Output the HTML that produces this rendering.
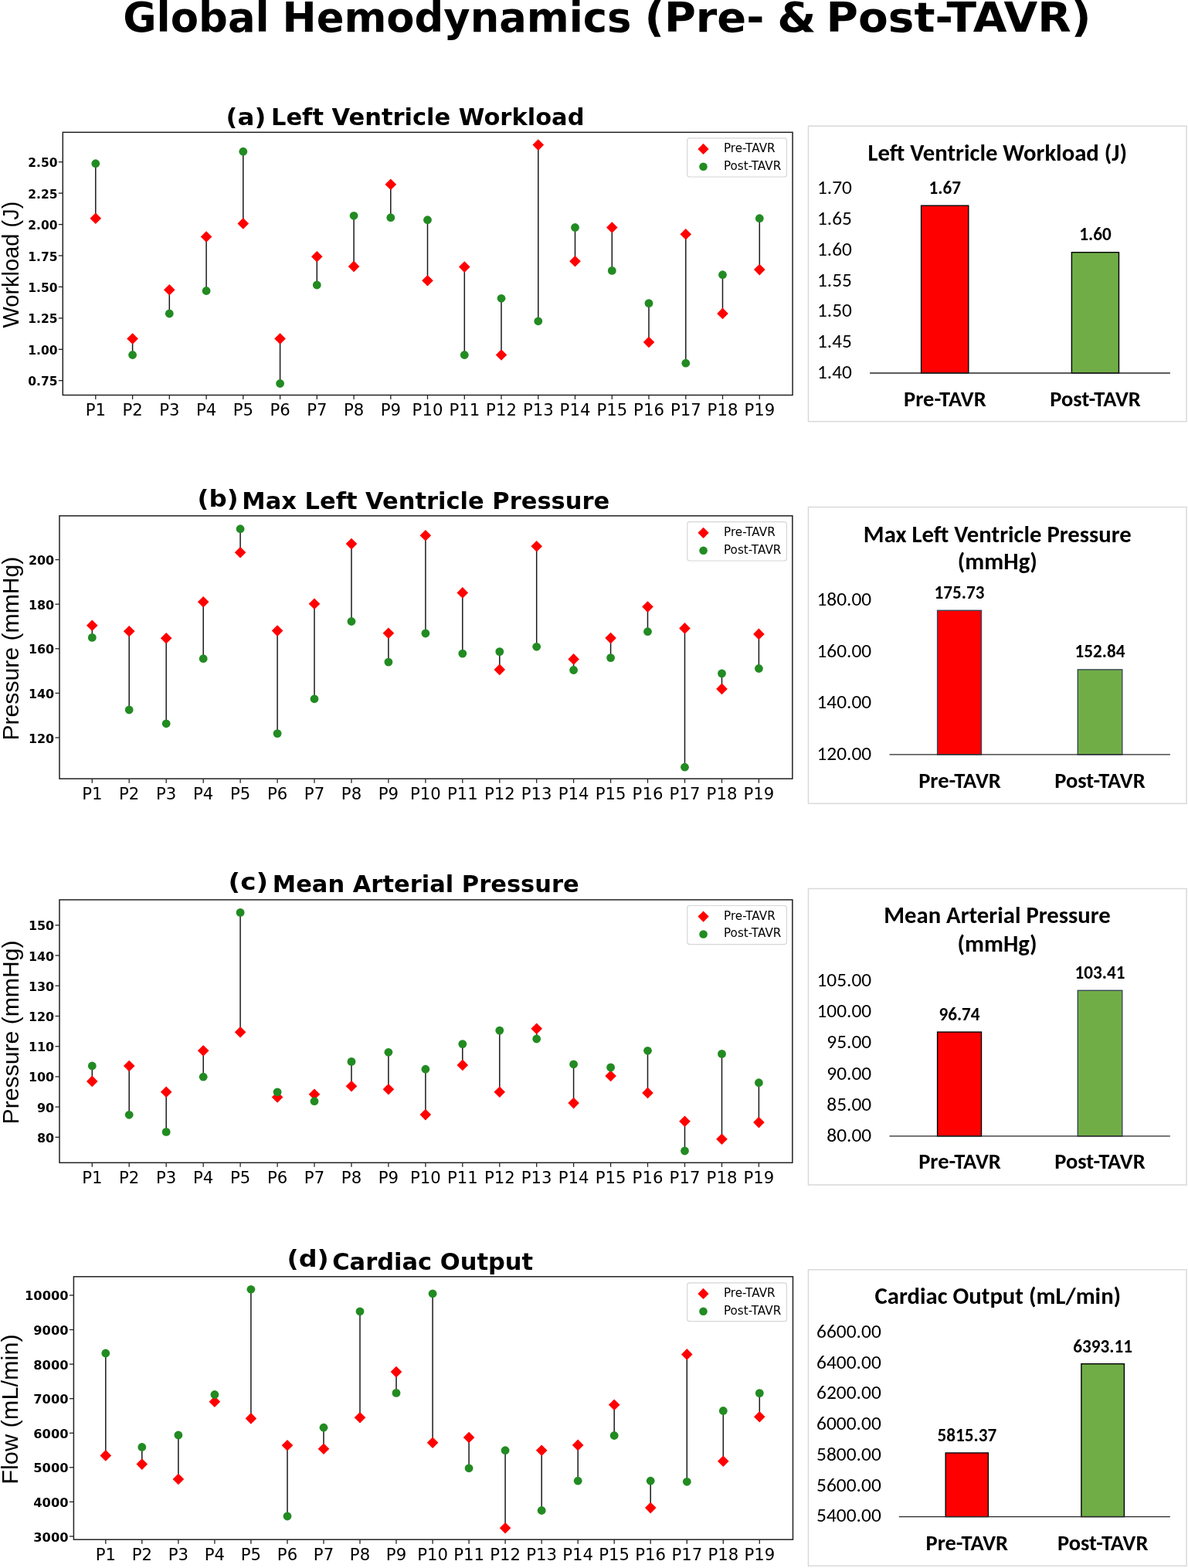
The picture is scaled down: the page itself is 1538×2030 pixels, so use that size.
<!DOCTYPE html>
<html><head><meta charset="utf-8"><title>Global Hemodynamics (Pre- &amp; Post-TAVR)</title>
<style>html,body{margin:0;padding:0;background:#fff;}svg{display:block;}</style></head>
<body><svg width="1538" height="2030" viewBox="0 0 1538 2030">
<rect x="0" y="0" width="1538" height="2030" fill="#ffffff"/>
<text y="41.4" font-family="'DejaVu Sans', 'Liberation Sans', sans-serif" font-weight="bold" font-size="53"><tspan x="159.2" textLength="189.5" lengthAdjust="spacingAndGlyphs">Global</tspan> <tspan x="365.5" textLength="452.0" lengthAdjust="spacingAndGlyphs">Hemodynamics</tspan> <tspan x="834.4" textLength="155.0" lengthAdjust="spacingAndGlyphs">(Pre-</tspan> <tspan x="1006.2" textLength="50.3" lengthAdjust="spacingAndGlyphs">&amp;</tspan> <tspan x="1069.5" textLength="343.2" lengthAdjust="spacingAndGlyphs">Post-TAVR)</tspan></text>
<line x1="123.8" y1="282.8" x2="123.8" y2="211.7" stroke="#1a1a1a" stroke-width="1.5"/>
<line x1="171.6" y1="438.5" x2="171.6" y2="459.5" stroke="#1a1a1a" stroke-width="1.5"/>
<line x1="219.3" y1="375.3" x2="219.3" y2="406.0" stroke="#1a1a1a" stroke-width="1.5"/>
<line x1="267.1" y1="306.5" x2="267.1" y2="376.5" stroke="#1a1a1a" stroke-width="1.5"/>
<line x1="314.8" y1="289.4" x2="314.8" y2="196.2" stroke="#1a1a1a" stroke-width="1.5"/>
<line x1="362.6" y1="438.5" x2="362.6" y2="496.5" stroke="#1a1a1a" stroke-width="1.5"/>
<line x1="410.3" y1="332.2" x2="410.3" y2="369.0" stroke="#1a1a1a" stroke-width="1.5"/>
<line x1="458.1" y1="344.9" x2="458.1" y2="279.3" stroke="#1a1a1a" stroke-width="1.5"/>
<line x1="505.8" y1="238.8" x2="505.8" y2="281.7" stroke="#1a1a1a" stroke-width="1.5"/>
<line x1="553.5" y1="363.3" x2="553.5" y2="284.7" stroke="#1a1a1a" stroke-width="1.5"/>
<line x1="601.3" y1="345.6" x2="601.3" y2="459.5" stroke="#1a1a1a" stroke-width="1.5"/>
<line x1="649.0" y1="459.5" x2="649.0" y2="386.3" stroke="#1a1a1a" stroke-width="1.5"/>
<line x1="696.8" y1="187.6" x2="696.8" y2="415.8" stroke="#1a1a1a" stroke-width="1.5"/>
<line x1="744.5" y1="338.3" x2="744.5" y2="294.5" stroke="#1a1a1a" stroke-width="1.5"/>
<line x1="792.3" y1="294.5" x2="792.3" y2="350.4" stroke="#1a1a1a" stroke-width="1.5"/>
<line x1="840.0" y1="443.0" x2="840.0" y2="392.6" stroke="#1a1a1a" stroke-width="1.5"/>
<line x1="887.8" y1="303.3" x2="887.8" y2="470.2" stroke="#1a1a1a" stroke-width="1.5"/>
<line x1="935.5" y1="405.9" x2="935.5" y2="355.7" stroke="#1a1a1a" stroke-width="1.5"/>
<line x1="983.3" y1="349.1" x2="983.3" y2="282.7" stroke="#1a1a1a" stroke-width="1.5"/>
<path d="M123.8 275.5L131.1 282.8L123.8 290.1L116.5 282.8Z" fill="#ff0000"/>
<circle cx="123.8" cy="211.7" r="5.4" fill="#228b22"/>
<path d="M171.6 431.2L178.9 438.5L171.6 445.8L164.2 438.5Z" fill="#ff0000"/>
<circle cx="171.6" cy="459.5" r="5.4" fill="#228b22"/>
<path d="M219.3 368.0L226.6 375.3L219.3 382.6L212.0 375.3Z" fill="#ff0000"/>
<circle cx="219.3" cy="406.0" r="5.4" fill="#228b22"/>
<path d="M267.1 299.2L274.4 306.5L267.1 313.8L259.8 306.5Z" fill="#ff0000"/>
<circle cx="267.1" cy="376.5" r="5.4" fill="#228b22"/>
<path d="M314.8 282.1L322.1 289.4L314.8 296.7L307.5 289.4Z" fill="#ff0000"/>
<circle cx="314.8" cy="196.2" r="5.4" fill="#228b22"/>
<path d="M362.6 431.2L369.9 438.5L362.6 445.8L355.2 438.5Z" fill="#ff0000"/>
<circle cx="362.6" cy="496.5" r="5.4" fill="#228b22"/>
<path d="M410.3 324.9L417.6 332.2L410.3 339.5L403.0 332.2Z" fill="#ff0000"/>
<circle cx="410.3" cy="369.0" r="5.4" fill="#228b22"/>
<path d="M458.1 337.6L465.4 344.9L458.1 352.2L450.8 344.9Z" fill="#ff0000"/>
<circle cx="458.1" cy="279.3" r="5.4" fill="#228b22"/>
<path d="M505.8 231.5L513.1 238.8L505.8 246.1L498.5 238.8Z" fill="#ff0000"/>
<circle cx="505.8" cy="281.7" r="5.4" fill="#228b22"/>
<path d="M553.5 356.0L560.8 363.3L553.5 370.6L546.2 363.3Z" fill="#ff0000"/>
<circle cx="553.5" cy="284.7" r="5.4" fill="#228b22"/>
<path d="M601.3 338.3L608.6 345.6L601.3 352.9L594.0 345.6Z" fill="#ff0000"/>
<circle cx="601.3" cy="459.5" r="5.4" fill="#228b22"/>
<path d="M649.0 452.2L656.3 459.5L649.0 466.8L641.8 459.5Z" fill="#ff0000"/>
<circle cx="649.0" cy="386.3" r="5.4" fill="#228b22"/>
<path d="M696.8 180.3L704.1 187.6L696.8 194.9L689.5 187.6Z" fill="#ff0000"/>
<circle cx="696.8" cy="415.8" r="5.4" fill="#228b22"/>
<path d="M744.5 331.0L751.8 338.3L744.5 345.6L737.2 338.3Z" fill="#ff0000"/>
<circle cx="744.5" cy="294.5" r="5.4" fill="#228b22"/>
<path d="M792.3 287.2L799.6 294.5L792.3 301.8L785.0 294.5Z" fill="#ff0000"/>
<circle cx="792.3" cy="350.4" r="5.4" fill="#228b22"/>
<path d="M840.0 435.7L847.3 443.0L840.0 450.3L832.8 443.0Z" fill="#ff0000"/>
<circle cx="840.0" cy="392.6" r="5.4" fill="#228b22"/>
<path d="M887.8 296.0L895.1 303.3L887.8 310.6L880.5 303.3Z" fill="#ff0000"/>
<circle cx="887.8" cy="470.2" r="5.4" fill="#228b22"/>
<path d="M935.5 398.6L942.8 405.9L935.5 413.2L928.2 405.9Z" fill="#ff0000"/>
<circle cx="935.5" cy="355.7" r="5.4" fill="#228b22"/>
<path d="M983.3 341.8L990.6 349.1L983.3 356.4L976.0 349.1Z" fill="#ff0000"/>
<circle cx="983.3" cy="282.7" r="5.4" fill="#228b22"/>
<rect x="81.3" y="171.3" width="944.8" height="340.2" fill="none" stroke="#222" stroke-width="1.5"/>
<line x1="75.8" y1="209.7" x2="81.3" y2="209.7" stroke="#222" stroke-width="1.3"/>
<text x="74.5" y="216.2" text-anchor="end" font-family="'DejaVu Sans', 'Liberation Sans', sans-serif" font-weight="bold" font-size="15.5">2.50</text>
<line x1="75.8" y1="250.1" x2="81.3" y2="250.1" stroke="#222" stroke-width="1.3"/>
<text x="74.5" y="256.6" text-anchor="end" font-family="'DejaVu Sans', 'Liberation Sans', sans-serif" font-weight="bold" font-size="15.5">2.25</text>
<line x1="75.8" y1="290.6" x2="81.3" y2="290.6" stroke="#222" stroke-width="1.3"/>
<text x="74.5" y="297.1" text-anchor="end" font-family="'DejaVu Sans', 'Liberation Sans', sans-serif" font-weight="bold" font-size="15.5">2.00</text>
<line x1="75.8" y1="331.0" x2="81.3" y2="331.0" stroke="#222" stroke-width="1.3"/>
<text x="74.5" y="337.5" text-anchor="end" font-family="'DejaVu Sans', 'Liberation Sans', sans-serif" font-weight="bold" font-size="15.5">1.75</text>
<line x1="75.8" y1="371.4" x2="81.3" y2="371.4" stroke="#222" stroke-width="1.3"/>
<text x="74.5" y="377.9" text-anchor="end" font-family="'DejaVu Sans', 'Liberation Sans', sans-serif" font-weight="bold" font-size="15.5">1.50</text>
<line x1="75.8" y1="411.9" x2="81.3" y2="411.9" stroke="#222" stroke-width="1.3"/>
<text x="74.5" y="418.4" text-anchor="end" font-family="'DejaVu Sans', 'Liberation Sans', sans-serif" font-weight="bold" font-size="15.5">1.25</text>
<line x1="75.8" y1="452.3" x2="81.3" y2="452.3" stroke="#222" stroke-width="1.3"/>
<text x="74.5" y="458.8" text-anchor="end" font-family="'DejaVu Sans', 'Liberation Sans', sans-serif" font-weight="bold" font-size="15.5">1.00</text>
<line x1="75.8" y1="492.7" x2="81.3" y2="492.7" stroke="#222" stroke-width="1.3"/>
<text x="74.5" y="499.2" text-anchor="end" font-family="'DejaVu Sans', 'Liberation Sans', sans-serif" font-weight="bold" font-size="15.5">0.75</text>
<line x1="123.8" y1="511.5" x2="123.8" y2="517.0" stroke="#222" stroke-width="1.3"/>
<text x="123.8" y="538.1" text-anchor="middle" font-family="'DejaVu Sans', 'Liberation Sans', sans-serif" font-size="20.6" textLength="26.3" lengthAdjust="spacingAndGlyphs">P1</text>
<line x1="171.6" y1="511.5" x2="171.6" y2="517.0" stroke="#222" stroke-width="1.3"/>
<text x="171.6" y="538.1" text-anchor="middle" font-family="'DejaVu Sans', 'Liberation Sans', sans-serif" font-size="20.6" textLength="26.3" lengthAdjust="spacingAndGlyphs">P2</text>
<line x1="219.3" y1="511.5" x2="219.3" y2="517.0" stroke="#222" stroke-width="1.3"/>
<text x="219.3" y="538.1" text-anchor="middle" font-family="'DejaVu Sans', 'Liberation Sans', sans-serif" font-size="20.6" textLength="26.3" lengthAdjust="spacingAndGlyphs">P3</text>
<line x1="267.1" y1="511.5" x2="267.1" y2="517.0" stroke="#222" stroke-width="1.3"/>
<text x="267.1" y="538.1" text-anchor="middle" font-family="'DejaVu Sans', 'Liberation Sans', sans-serif" font-size="20.6" textLength="26.3" lengthAdjust="spacingAndGlyphs">P4</text>
<line x1="314.8" y1="511.5" x2="314.8" y2="517.0" stroke="#222" stroke-width="1.3"/>
<text x="314.8" y="538.1" text-anchor="middle" font-family="'DejaVu Sans', 'Liberation Sans', sans-serif" font-size="20.6" textLength="26.3" lengthAdjust="spacingAndGlyphs">P5</text>
<line x1="362.6" y1="511.5" x2="362.6" y2="517.0" stroke="#222" stroke-width="1.3"/>
<text x="362.6" y="538.1" text-anchor="middle" font-family="'DejaVu Sans', 'Liberation Sans', sans-serif" font-size="20.6" textLength="26.3" lengthAdjust="spacingAndGlyphs">P6</text>
<line x1="410.3" y1="511.5" x2="410.3" y2="517.0" stroke="#222" stroke-width="1.3"/>
<text x="410.3" y="538.1" text-anchor="middle" font-family="'DejaVu Sans', 'Liberation Sans', sans-serif" font-size="20.6" textLength="26.3" lengthAdjust="spacingAndGlyphs">P7</text>
<line x1="458.1" y1="511.5" x2="458.1" y2="517.0" stroke="#222" stroke-width="1.3"/>
<text x="458.1" y="538.1" text-anchor="middle" font-family="'DejaVu Sans', 'Liberation Sans', sans-serif" font-size="20.6" textLength="26.3" lengthAdjust="spacingAndGlyphs">P8</text>
<line x1="505.8" y1="511.5" x2="505.8" y2="517.0" stroke="#222" stroke-width="1.3"/>
<text x="505.8" y="538.1" text-anchor="middle" font-family="'DejaVu Sans', 'Liberation Sans', sans-serif" font-size="20.6" textLength="26.3" lengthAdjust="spacingAndGlyphs">P9</text>
<line x1="553.5" y1="511.5" x2="553.5" y2="517.0" stroke="#222" stroke-width="1.3"/>
<text x="553.5" y="538.1" text-anchor="middle" font-family="'DejaVu Sans', 'Liberation Sans', sans-serif" font-size="20.6" textLength="39.8" lengthAdjust="spacingAndGlyphs">P10</text>
<line x1="601.3" y1="511.5" x2="601.3" y2="517.0" stroke="#222" stroke-width="1.3"/>
<text x="601.3" y="538.1" text-anchor="middle" font-family="'DejaVu Sans', 'Liberation Sans', sans-serif" font-size="20.6" textLength="39.8" lengthAdjust="spacingAndGlyphs">P11</text>
<line x1="649.0" y1="511.5" x2="649.0" y2="517.0" stroke="#222" stroke-width="1.3"/>
<text x="649.0" y="538.1" text-anchor="middle" font-family="'DejaVu Sans', 'Liberation Sans', sans-serif" font-size="20.6" textLength="39.8" lengthAdjust="spacingAndGlyphs">P12</text>
<line x1="696.8" y1="511.5" x2="696.8" y2="517.0" stroke="#222" stroke-width="1.3"/>
<text x="696.8" y="538.1" text-anchor="middle" font-family="'DejaVu Sans', 'Liberation Sans', sans-serif" font-size="20.6" textLength="39.8" lengthAdjust="spacingAndGlyphs">P13</text>
<line x1="744.5" y1="511.5" x2="744.5" y2="517.0" stroke="#222" stroke-width="1.3"/>
<text x="744.5" y="538.1" text-anchor="middle" font-family="'DejaVu Sans', 'Liberation Sans', sans-serif" font-size="20.6" textLength="39.8" lengthAdjust="spacingAndGlyphs">P14</text>
<line x1="792.3" y1="511.5" x2="792.3" y2="517.0" stroke="#222" stroke-width="1.3"/>
<text x="792.3" y="538.1" text-anchor="middle" font-family="'DejaVu Sans', 'Liberation Sans', sans-serif" font-size="20.6" textLength="39.8" lengthAdjust="spacingAndGlyphs">P15</text>
<line x1="840.0" y1="511.5" x2="840.0" y2="517.0" stroke="#222" stroke-width="1.3"/>
<text x="840.0" y="538.1" text-anchor="middle" font-family="'DejaVu Sans', 'Liberation Sans', sans-serif" font-size="20.6" textLength="39.8" lengthAdjust="spacingAndGlyphs">P16</text>
<line x1="887.8" y1="511.5" x2="887.8" y2="517.0" stroke="#222" stroke-width="1.3"/>
<text x="887.8" y="538.1" text-anchor="middle" font-family="'DejaVu Sans', 'Liberation Sans', sans-serif" font-size="20.6" textLength="39.8" lengthAdjust="spacingAndGlyphs">P17</text>
<line x1="935.5" y1="511.5" x2="935.5" y2="517.0" stroke="#222" stroke-width="1.3"/>
<text x="935.5" y="538.1" text-anchor="middle" font-family="'DejaVu Sans', 'Liberation Sans', sans-serif" font-size="20.6" textLength="39.8" lengthAdjust="spacingAndGlyphs">P18</text>
<line x1="983.3" y1="511.5" x2="983.3" y2="517.0" stroke="#222" stroke-width="1.3"/>
<text x="983.3" y="538.1" text-anchor="middle" font-family="'DejaVu Sans', 'Liberation Sans', sans-serif" font-size="20.6" textLength="39.8" lengthAdjust="spacingAndGlyphs">P19</text>
<text transform="translate(24,342.6) rotate(-90)" text-anchor="middle" font-family="'Liberation Sans', Arial, sans-serif" font-size="29">Workload (J)</text>
<text x="292.6" y="162.0" font-family="'DejaVu Sans', 'Liberation Sans', sans-serif" font-weight="bold" font-size="30.5" textLength="51.7" lengthAdjust="spacingAndGlyphs">(a)</text>
<text x="351.0" y="162.0" font-family="'DejaVu Sans', 'Liberation Sans', sans-serif" font-weight="bold" font-size="30.5">Left Ventricle Workload</text>
<rect x="889.7" y="178.8" width="128.7" height="50.2" rx="3" ry="3" fill="#fff" fill-opacity="0.8" stroke="#d6d6d6" stroke-width="1.2"/>
<path d="M910.5 185.8L917.6 192.9L910.5 200.0L903.4 192.9Z" fill="#ff0000"/>
<circle cx="910.5" cy="215.8" r="5.3" fill="#228b22"/>
<text x="936.9" y="197.1" font-family="'DejaVu Sans', 'Liberation Sans', sans-serif" font-size="15.2">Pre-TAVR</text>
<text x="936.9" y="219.6" font-family="'DejaVu Sans', 'Liberation Sans', sans-serif" font-size="15.2">Post-TAVR</text>
<line x1="119.3" y1="809.8" x2="119.3" y2="825.4" stroke="#1a1a1a" stroke-width="1.5"/>
<line x1="167.2" y1="817.2" x2="167.2" y2="919.0" stroke="#1a1a1a" stroke-width="1.5"/>
<line x1="215.2" y1="826.2" x2="215.2" y2="936.8" stroke="#1a1a1a" stroke-width="1.5"/>
<line x1="263.2" y1="779.2" x2="263.2" y2="852.7" stroke="#1a1a1a" stroke-width="1.5"/>
<line x1="311.1" y1="715.3" x2="311.1" y2="684.7" stroke="#1a1a1a" stroke-width="1.5"/>
<line x1="359.1" y1="816.6" x2="359.1" y2="949.6" stroke="#1a1a1a" stroke-width="1.5"/>
<line x1="407.0" y1="781.7" x2="407.0" y2="904.8" stroke="#1a1a1a" stroke-width="1.5"/>
<line x1="455.0" y1="704.1" x2="455.0" y2="804.5" stroke="#1a1a1a" stroke-width="1.5"/>
<line x1="502.9" y1="819.7" x2="502.9" y2="857.1" stroke="#1a1a1a" stroke-width="1.5"/>
<line x1="550.9" y1="693.2" x2="550.9" y2="820.0" stroke="#1a1a1a" stroke-width="1.5"/>
<line x1="598.8" y1="767.4" x2="598.8" y2="846.1" stroke="#1a1a1a" stroke-width="1.5"/>
<line x1="646.8" y1="866.9" x2="646.8" y2="843.6" stroke="#1a1a1a" stroke-width="1.5"/>
<line x1="694.7" y1="707.3" x2="694.7" y2="837.3" stroke="#1a1a1a" stroke-width="1.5"/>
<line x1="742.6" y1="853.4" x2="742.6" y2="867.5" stroke="#1a1a1a" stroke-width="1.5"/>
<line x1="790.6" y1="826.1" x2="790.6" y2="851.6" stroke="#1a1a1a" stroke-width="1.5"/>
<line x1="838.5" y1="785.6" x2="838.5" y2="817.7" stroke="#1a1a1a" stroke-width="1.5"/>
<line x1="886.5" y1="813.4" x2="886.5" y2="993.2" stroke="#1a1a1a" stroke-width="1.5"/>
<line x1="934.5" y1="891.9" x2="934.5" y2="871.9" stroke="#1a1a1a" stroke-width="1.5"/>
<line x1="982.4" y1="820.9" x2="982.4" y2="865.5" stroke="#1a1a1a" stroke-width="1.5"/>
<path d="M119.3 802.5L126.6 809.8L119.3 817.1L112.0 809.8Z" fill="#ff0000"/>
<circle cx="119.3" cy="825.4" r="5.4" fill="#228b22"/>
<path d="M167.2 809.9L174.6 817.2L167.2 824.5L159.9 817.2Z" fill="#ff0000"/>
<circle cx="167.2" cy="919.0" r="5.4" fill="#228b22"/>
<path d="M215.2 818.9L222.5 826.2L215.2 833.5L207.9 826.2Z" fill="#ff0000"/>
<circle cx="215.2" cy="936.8" r="5.4" fill="#228b22"/>
<path d="M263.2 771.9L270.5 779.2L263.2 786.5L255.9 779.2Z" fill="#ff0000"/>
<circle cx="263.2" cy="852.7" r="5.4" fill="#228b22"/>
<path d="M311.1 708.0L318.4 715.3L311.1 722.6L303.8 715.3Z" fill="#ff0000"/>
<circle cx="311.1" cy="684.7" r="5.4" fill="#228b22"/>
<path d="M359.1 809.3L366.4 816.6L359.1 823.9L351.8 816.6Z" fill="#ff0000"/>
<circle cx="359.1" cy="949.6" r="5.4" fill="#228b22"/>
<path d="M407.0 774.4L414.3 781.7L407.0 789.0L399.7 781.7Z" fill="#ff0000"/>
<circle cx="407.0" cy="904.8" r="5.4" fill="#228b22"/>
<path d="M455.0 696.8L462.3 704.1L455.0 711.4L447.7 704.1Z" fill="#ff0000"/>
<circle cx="455.0" cy="804.5" r="5.4" fill="#228b22"/>
<path d="M502.9 812.4L510.2 819.7L502.9 827.0L495.6 819.7Z" fill="#ff0000"/>
<circle cx="502.9" cy="857.1" r="5.4" fill="#228b22"/>
<path d="M550.9 685.9L558.1 693.2L550.9 700.5L543.6 693.2Z" fill="#ff0000"/>
<circle cx="550.9" cy="820.0" r="5.4" fill="#228b22"/>
<path d="M598.8 760.1L606.1 767.4L598.8 774.7L591.5 767.4Z" fill="#ff0000"/>
<circle cx="598.8" cy="846.1" r="5.4" fill="#228b22"/>
<path d="M646.8 859.6L654.0 866.9L646.8 874.2L639.5 866.9Z" fill="#ff0000"/>
<circle cx="646.8" cy="843.6" r="5.4" fill="#228b22"/>
<path d="M694.7 700.0L702.0 707.3L694.7 714.6L687.4 707.3Z" fill="#ff0000"/>
<circle cx="694.7" cy="837.3" r="5.4" fill="#228b22"/>
<path d="M742.6 846.1L749.9 853.4L742.6 860.7L735.4 853.4Z" fill="#ff0000"/>
<circle cx="742.6" cy="867.5" r="5.4" fill="#228b22"/>
<path d="M790.6 818.8L797.9 826.1L790.6 833.4L783.3 826.1Z" fill="#ff0000"/>
<circle cx="790.6" cy="851.6" r="5.4" fill="#228b22"/>
<path d="M838.5 778.3L845.8 785.6L838.5 792.9L831.2 785.6Z" fill="#ff0000"/>
<circle cx="838.5" cy="817.7" r="5.4" fill="#228b22"/>
<path d="M886.5 806.1L893.8 813.4L886.5 820.7L879.2 813.4Z" fill="#ff0000"/>
<circle cx="886.5" cy="993.2" r="5.4" fill="#228b22"/>
<path d="M934.5 884.6L941.8 891.9L934.5 899.2L927.2 891.9Z" fill="#ff0000"/>
<circle cx="934.5" cy="871.9" r="5.4" fill="#228b22"/>
<path d="M982.4 813.6L989.7 820.9L982.4 828.2L975.1 820.9Z" fill="#ff0000"/>
<circle cx="982.4" cy="865.5" r="5.4" fill="#228b22"/>
<rect x="77.0" y="667.8" width="948.9" height="340.4" fill="none" stroke="#222" stroke-width="1.5"/>
<line x1="71.5" y1="724.6" x2="77.0" y2="724.6" stroke="#222" stroke-width="1.3"/>
<text x="70.2" y="731.1" text-anchor="end" font-family="'DejaVu Sans', 'Liberation Sans', sans-serif" font-weight="bold" font-size="15.5" textLength="33.3" lengthAdjust="spacingAndGlyphs">200</text>
<line x1="71.5" y1="782.2" x2="77.0" y2="782.2" stroke="#222" stroke-width="1.3"/>
<text x="70.2" y="788.7" text-anchor="end" font-family="'DejaVu Sans', 'Liberation Sans', sans-serif" font-weight="bold" font-size="15.5" textLength="33.3" lengthAdjust="spacingAndGlyphs">180</text>
<line x1="71.5" y1="839.8" x2="77.0" y2="839.8" stroke="#222" stroke-width="1.3"/>
<text x="70.2" y="846.3" text-anchor="end" font-family="'DejaVu Sans', 'Liberation Sans', sans-serif" font-weight="bold" font-size="15.5" textLength="33.3" lengthAdjust="spacingAndGlyphs">160</text>
<line x1="71.5" y1="897.4" x2="77.0" y2="897.4" stroke="#222" stroke-width="1.3"/>
<text x="70.2" y="903.9" text-anchor="end" font-family="'DejaVu Sans', 'Liberation Sans', sans-serif" font-weight="bold" font-size="15.5" textLength="33.3" lengthAdjust="spacingAndGlyphs">140</text>
<line x1="71.5" y1="955.0" x2="77.0" y2="955.0" stroke="#222" stroke-width="1.3"/>
<text x="70.2" y="961.5" text-anchor="end" font-family="'DejaVu Sans', 'Liberation Sans', sans-serif" font-weight="bold" font-size="15.5" textLength="33.3" lengthAdjust="spacingAndGlyphs">120</text>
<line x1="119.3" y1="1008.2" x2="119.3" y2="1013.7" stroke="#222" stroke-width="1.3"/>
<text x="119.3" y="1034.8" text-anchor="middle" font-family="'DejaVu Sans', 'Liberation Sans', sans-serif" font-size="20.6" textLength="26.3" lengthAdjust="spacingAndGlyphs">P1</text>
<line x1="167.2" y1="1008.2" x2="167.2" y2="1013.7" stroke="#222" stroke-width="1.3"/>
<text x="167.2" y="1034.8" text-anchor="middle" font-family="'DejaVu Sans', 'Liberation Sans', sans-serif" font-size="20.6" textLength="26.3" lengthAdjust="spacingAndGlyphs">P2</text>
<line x1="215.2" y1="1008.2" x2="215.2" y2="1013.7" stroke="#222" stroke-width="1.3"/>
<text x="215.2" y="1034.8" text-anchor="middle" font-family="'DejaVu Sans', 'Liberation Sans', sans-serif" font-size="20.6" textLength="26.3" lengthAdjust="spacingAndGlyphs">P3</text>
<line x1="263.2" y1="1008.2" x2="263.2" y2="1013.7" stroke="#222" stroke-width="1.3"/>
<text x="263.2" y="1034.8" text-anchor="middle" font-family="'DejaVu Sans', 'Liberation Sans', sans-serif" font-size="20.6" textLength="26.3" lengthAdjust="spacingAndGlyphs">P4</text>
<line x1="311.1" y1="1008.2" x2="311.1" y2="1013.7" stroke="#222" stroke-width="1.3"/>
<text x="311.1" y="1034.8" text-anchor="middle" font-family="'DejaVu Sans', 'Liberation Sans', sans-serif" font-size="20.6" textLength="26.3" lengthAdjust="spacingAndGlyphs">P5</text>
<line x1="359.1" y1="1008.2" x2="359.1" y2="1013.7" stroke="#222" stroke-width="1.3"/>
<text x="359.1" y="1034.8" text-anchor="middle" font-family="'DejaVu Sans', 'Liberation Sans', sans-serif" font-size="20.6" textLength="26.3" lengthAdjust="spacingAndGlyphs">P6</text>
<line x1="407.0" y1="1008.2" x2="407.0" y2="1013.7" stroke="#222" stroke-width="1.3"/>
<text x="407.0" y="1034.8" text-anchor="middle" font-family="'DejaVu Sans', 'Liberation Sans', sans-serif" font-size="20.6" textLength="26.3" lengthAdjust="spacingAndGlyphs">P7</text>
<line x1="455.0" y1="1008.2" x2="455.0" y2="1013.7" stroke="#222" stroke-width="1.3"/>
<text x="455.0" y="1034.8" text-anchor="middle" font-family="'DejaVu Sans', 'Liberation Sans', sans-serif" font-size="20.6" textLength="26.3" lengthAdjust="spacingAndGlyphs">P8</text>
<line x1="502.9" y1="1008.2" x2="502.9" y2="1013.7" stroke="#222" stroke-width="1.3"/>
<text x="502.9" y="1034.8" text-anchor="middle" font-family="'DejaVu Sans', 'Liberation Sans', sans-serif" font-size="20.6" textLength="26.3" lengthAdjust="spacingAndGlyphs">P9</text>
<line x1="550.9" y1="1008.2" x2="550.9" y2="1013.7" stroke="#222" stroke-width="1.3"/>
<text x="550.9" y="1034.8" text-anchor="middle" font-family="'DejaVu Sans', 'Liberation Sans', sans-serif" font-size="20.6" textLength="39.8" lengthAdjust="spacingAndGlyphs">P10</text>
<line x1="598.8" y1="1008.2" x2="598.8" y2="1013.7" stroke="#222" stroke-width="1.3"/>
<text x="598.8" y="1034.8" text-anchor="middle" font-family="'DejaVu Sans', 'Liberation Sans', sans-serif" font-size="20.6" textLength="39.8" lengthAdjust="spacingAndGlyphs">P11</text>
<line x1="646.8" y1="1008.2" x2="646.8" y2="1013.7" stroke="#222" stroke-width="1.3"/>
<text x="646.8" y="1034.8" text-anchor="middle" font-family="'DejaVu Sans', 'Liberation Sans', sans-serif" font-size="20.6" textLength="39.8" lengthAdjust="spacingAndGlyphs">P12</text>
<line x1="694.7" y1="1008.2" x2="694.7" y2="1013.7" stroke="#222" stroke-width="1.3"/>
<text x="694.7" y="1034.8" text-anchor="middle" font-family="'DejaVu Sans', 'Liberation Sans', sans-serif" font-size="20.6" textLength="39.8" lengthAdjust="spacingAndGlyphs">P13</text>
<line x1="742.6" y1="1008.2" x2="742.6" y2="1013.7" stroke="#222" stroke-width="1.3"/>
<text x="742.6" y="1034.8" text-anchor="middle" font-family="'DejaVu Sans', 'Liberation Sans', sans-serif" font-size="20.6" textLength="39.8" lengthAdjust="spacingAndGlyphs">P14</text>
<line x1="790.6" y1="1008.2" x2="790.6" y2="1013.7" stroke="#222" stroke-width="1.3"/>
<text x="790.6" y="1034.8" text-anchor="middle" font-family="'DejaVu Sans', 'Liberation Sans', sans-serif" font-size="20.6" textLength="39.8" lengthAdjust="spacingAndGlyphs">P15</text>
<line x1="838.5" y1="1008.2" x2="838.5" y2="1013.7" stroke="#222" stroke-width="1.3"/>
<text x="838.5" y="1034.8" text-anchor="middle" font-family="'DejaVu Sans', 'Liberation Sans', sans-serif" font-size="20.6" textLength="39.8" lengthAdjust="spacingAndGlyphs">P16</text>
<line x1="886.5" y1="1008.2" x2="886.5" y2="1013.7" stroke="#222" stroke-width="1.3"/>
<text x="886.5" y="1034.8" text-anchor="middle" font-family="'DejaVu Sans', 'Liberation Sans', sans-serif" font-size="20.6" textLength="39.8" lengthAdjust="spacingAndGlyphs">P17</text>
<line x1="934.5" y1="1008.2" x2="934.5" y2="1013.7" stroke="#222" stroke-width="1.3"/>
<text x="934.5" y="1034.8" text-anchor="middle" font-family="'DejaVu Sans', 'Liberation Sans', sans-serif" font-size="20.6" textLength="39.8" lengthAdjust="spacingAndGlyphs">P18</text>
<line x1="982.4" y1="1008.2" x2="982.4" y2="1013.7" stroke="#222" stroke-width="1.3"/>
<text x="982.4" y="1034.8" text-anchor="middle" font-family="'DejaVu Sans', 'Liberation Sans', sans-serif" font-size="20.6" textLength="39.8" lengthAdjust="spacingAndGlyphs">P19</text>
<text transform="translate(24,839.6) rotate(-90)" text-anchor="middle" font-family="'Liberation Sans', Arial, sans-serif" font-size="29" textLength="238.0" lengthAdjust="spacingAndGlyphs">Pressure (mmHg)</text>
<text x="255.6" y="656.3" font-family="'DejaVu Sans', 'Liberation Sans', sans-serif" font-weight="bold" font-size="30.5" textLength="53.1" lengthAdjust="spacingAndGlyphs">(b)</text>
<text x="313.3" y="658.8" font-family="'DejaVu Sans', 'Liberation Sans', sans-serif" font-weight="bold" font-size="30.5">Max Left Ventricle Pressure</text>
<rect x="889.8" y="675.7" width="128.6" height="50.3" rx="3" ry="3" fill="#fff" fill-opacity="0.8" stroke="#d6d6d6" stroke-width="1.2"/>
<path d="M910.6 682.7L917.7 689.8L910.6 696.9L903.5 689.8Z" fill="#ff0000"/>
<circle cx="910.6" cy="712.7" r="5.3" fill="#228b22"/>
<text x="937.0" y="694.0" font-family="'DejaVu Sans', 'Liberation Sans', sans-serif" font-size="15.2">Pre-TAVR</text>
<text x="937.0" y="716.5" font-family="'DejaVu Sans', 'Liberation Sans', sans-serif" font-size="15.2">Post-TAVR</text>
<line x1="119.3" y1="1399.9" x2="119.3" y2="1380.0" stroke="#1a1a1a" stroke-width="1.5"/>
<line x1="167.2" y1="1380.0" x2="167.2" y2="1443.3" stroke="#1a1a1a" stroke-width="1.5"/>
<line x1="215.2" y1="1413.8" x2="215.2" y2="1465.4" stroke="#1a1a1a" stroke-width="1.5"/>
<line x1="263.2" y1="1360.3" x2="263.2" y2="1394.2" stroke="#1a1a1a" stroke-width="1.5"/>
<line x1="311.1" y1="1336.3" x2="311.1" y2="1181.4" stroke="#1a1a1a" stroke-width="1.5"/>
<line x1="359.1" y1="1420.4" x2="359.1" y2="1413.8" stroke="#1a1a1a" stroke-width="1.5"/>
<line x1="407.0" y1="1416.8" x2="407.0" y2="1425.7" stroke="#1a1a1a" stroke-width="1.5"/>
<line x1="455.0" y1="1406.2" x2="455.0" y2="1374.4" stroke="#1a1a1a" stroke-width="1.5"/>
<line x1="502.9" y1="1410.3" x2="502.9" y2="1362.3" stroke="#1a1a1a" stroke-width="1.5"/>
<line x1="550.9" y1="1443.1" x2="550.9" y2="1384.2" stroke="#1a1a1a" stroke-width="1.5"/>
<line x1="598.8" y1="1378.9" x2="598.8" y2="1351.6" stroke="#1a1a1a" stroke-width="1.5"/>
<line x1="646.8" y1="1413.7" x2="646.8" y2="1334.1" stroke="#1a1a1a" stroke-width="1.5"/>
<line x1="694.7" y1="1331.8" x2="694.7" y2="1345.0" stroke="#1a1a1a" stroke-width="1.5"/>
<line x1="742.6" y1="1428.1" x2="742.6" y2="1377.8" stroke="#1a1a1a" stroke-width="1.5"/>
<line x1="790.6" y1="1393.0" x2="790.6" y2="1381.9" stroke="#1a1a1a" stroke-width="1.5"/>
<line x1="838.5" y1="1414.9" x2="838.5" y2="1360.3" stroke="#1a1a1a" stroke-width="1.5"/>
<line x1="886.5" y1="1451.7" x2="886.5" y2="1490.0" stroke="#1a1a1a" stroke-width="1.5"/>
<line x1="934.5" y1="1474.7" x2="934.5" y2="1364.4" stroke="#1a1a1a" stroke-width="1.5"/>
<line x1="982.4" y1="1453.1" x2="982.4" y2="1401.7" stroke="#1a1a1a" stroke-width="1.5"/>
<path d="M119.3 1392.6L126.6 1399.9L119.3 1407.2L112.0 1399.9Z" fill="#ff0000"/>
<circle cx="119.3" cy="1380.0" r="5.4" fill="#228b22"/>
<path d="M167.2 1372.7L174.6 1380.0L167.2 1387.3L159.9 1380.0Z" fill="#ff0000"/>
<circle cx="167.2" cy="1443.3" r="5.4" fill="#228b22"/>
<path d="M215.2 1406.5L222.5 1413.8L215.2 1421.1L207.9 1413.8Z" fill="#ff0000"/>
<circle cx="215.2" cy="1465.4" r="5.4" fill="#228b22"/>
<path d="M263.2 1353.0L270.5 1360.3L263.2 1367.6L255.9 1360.3Z" fill="#ff0000"/>
<circle cx="263.2" cy="1394.2" r="5.4" fill="#228b22"/>
<path d="M311.1 1329.0L318.4 1336.3L311.1 1343.6L303.8 1336.3Z" fill="#ff0000"/>
<circle cx="311.1" cy="1181.4" r="5.4" fill="#228b22"/>
<path d="M359.1 1413.1L366.4 1420.4L359.1 1427.7L351.8 1420.4Z" fill="#ff0000"/>
<circle cx="359.1" cy="1413.8" r="5.4" fill="#228b22"/>
<path d="M407.0 1409.5L414.3 1416.8L407.0 1424.1L399.7 1416.8Z" fill="#ff0000"/>
<circle cx="407.0" cy="1425.7" r="5.4" fill="#228b22"/>
<path d="M455.0 1398.9L462.3 1406.2L455.0 1413.5L447.7 1406.2Z" fill="#ff0000"/>
<circle cx="455.0" cy="1374.4" r="5.4" fill="#228b22"/>
<path d="M502.9 1403.0L510.2 1410.3L502.9 1417.6L495.6 1410.3Z" fill="#ff0000"/>
<circle cx="502.9" cy="1362.3" r="5.4" fill="#228b22"/>
<path d="M550.9 1435.8L558.1 1443.1L550.9 1450.4L543.6 1443.1Z" fill="#ff0000"/>
<circle cx="550.9" cy="1384.2" r="5.4" fill="#228b22"/>
<path d="M598.8 1371.6L606.1 1378.9L598.8 1386.2L591.5 1378.9Z" fill="#ff0000"/>
<circle cx="598.8" cy="1351.6" r="5.4" fill="#228b22"/>
<path d="M646.8 1406.4L654.0 1413.7L646.8 1421.0L639.5 1413.7Z" fill="#ff0000"/>
<circle cx="646.8" cy="1334.1" r="5.4" fill="#228b22"/>
<path d="M694.7 1324.5L702.0 1331.8L694.7 1339.1L687.4 1331.8Z" fill="#ff0000"/>
<circle cx="694.7" cy="1345.0" r="5.4" fill="#228b22"/>
<path d="M742.6 1420.8L749.9 1428.1L742.6 1435.4L735.4 1428.1Z" fill="#ff0000"/>
<circle cx="742.6" cy="1377.8" r="5.4" fill="#228b22"/>
<path d="M790.6 1385.7L797.9 1393.0L790.6 1400.3L783.3 1393.0Z" fill="#ff0000"/>
<circle cx="790.6" cy="1381.9" r="5.4" fill="#228b22"/>
<path d="M838.5 1407.6L845.8 1414.9L838.5 1422.2L831.2 1414.9Z" fill="#ff0000"/>
<circle cx="838.5" cy="1360.3" r="5.4" fill="#228b22"/>
<path d="M886.5 1444.4L893.8 1451.7L886.5 1459.0L879.2 1451.7Z" fill="#ff0000"/>
<circle cx="886.5" cy="1490.0" r="5.4" fill="#228b22"/>
<path d="M934.5 1467.4L941.8 1474.7L934.5 1482.0L927.2 1474.7Z" fill="#ff0000"/>
<circle cx="934.5" cy="1364.4" r="5.4" fill="#228b22"/>
<path d="M982.4 1445.8L989.7 1453.1L982.4 1460.4L975.1 1453.1Z" fill="#ff0000"/>
<circle cx="982.4" cy="1401.7" r="5.4" fill="#228b22"/>
<rect x="77.0" y="1164.9" width="948.9" height="340.4" fill="none" stroke="#222" stroke-width="1.5"/>
<line x1="71.5" y1="1197.8" x2="77.0" y2="1197.8" stroke="#222" stroke-width="1.3"/>
<text x="70.2" y="1204.3" text-anchor="end" font-family="'DejaVu Sans', 'Liberation Sans', sans-serif" font-weight="bold" font-size="15.5" textLength="33.3" lengthAdjust="spacingAndGlyphs">150</text>
<line x1="71.5" y1="1237.0" x2="77.0" y2="1237.0" stroke="#222" stroke-width="1.3"/>
<text x="70.2" y="1243.5" text-anchor="end" font-family="'DejaVu Sans', 'Liberation Sans', sans-serif" font-weight="bold" font-size="15.5" textLength="33.3" lengthAdjust="spacingAndGlyphs">140</text>
<line x1="71.5" y1="1276.2" x2="77.0" y2="1276.2" stroke="#222" stroke-width="1.3"/>
<text x="70.2" y="1282.7" text-anchor="end" font-family="'DejaVu Sans', 'Liberation Sans', sans-serif" font-weight="bold" font-size="15.5" textLength="33.3" lengthAdjust="spacingAndGlyphs">130</text>
<line x1="71.5" y1="1315.5" x2="77.0" y2="1315.5" stroke="#222" stroke-width="1.3"/>
<text x="70.2" y="1322.0" text-anchor="end" font-family="'DejaVu Sans', 'Liberation Sans', sans-serif" font-weight="bold" font-size="15.5" textLength="33.3" lengthAdjust="spacingAndGlyphs">120</text>
<line x1="71.5" y1="1354.7" x2="77.0" y2="1354.7" stroke="#222" stroke-width="1.3"/>
<text x="70.2" y="1361.2" text-anchor="end" font-family="'DejaVu Sans', 'Liberation Sans', sans-serif" font-weight="bold" font-size="15.5" textLength="33.3" lengthAdjust="spacingAndGlyphs">110</text>
<line x1="71.5" y1="1393.9" x2="77.0" y2="1393.9" stroke="#222" stroke-width="1.3"/>
<text x="70.2" y="1400.4" text-anchor="end" font-family="'DejaVu Sans', 'Liberation Sans', sans-serif" font-weight="bold" font-size="15.5" textLength="33.3" lengthAdjust="spacingAndGlyphs">100</text>
<line x1="71.5" y1="1433.1" x2="77.0" y2="1433.1" stroke="#222" stroke-width="1.3"/>
<text x="70.2" y="1439.6" text-anchor="end" font-family="'DejaVu Sans', 'Liberation Sans', sans-serif" font-weight="bold" font-size="15.5" textLength="22.2" lengthAdjust="spacingAndGlyphs">90</text>
<line x1="71.5" y1="1472.3" x2="77.0" y2="1472.3" stroke="#222" stroke-width="1.3"/>
<text x="70.2" y="1478.8" text-anchor="end" font-family="'DejaVu Sans', 'Liberation Sans', sans-serif" font-weight="bold" font-size="15.5" textLength="22.2" lengthAdjust="spacingAndGlyphs">80</text>
<line x1="119.3" y1="1505.3" x2="119.3" y2="1510.8" stroke="#222" stroke-width="1.3"/>
<text x="119.3" y="1531.9" text-anchor="middle" font-family="'DejaVu Sans', 'Liberation Sans', sans-serif" font-size="20.6" textLength="26.3" lengthAdjust="spacingAndGlyphs">P1</text>
<line x1="167.2" y1="1505.3" x2="167.2" y2="1510.8" stroke="#222" stroke-width="1.3"/>
<text x="167.2" y="1531.9" text-anchor="middle" font-family="'DejaVu Sans', 'Liberation Sans', sans-serif" font-size="20.6" textLength="26.3" lengthAdjust="spacingAndGlyphs">P2</text>
<line x1="215.2" y1="1505.3" x2="215.2" y2="1510.8" stroke="#222" stroke-width="1.3"/>
<text x="215.2" y="1531.9" text-anchor="middle" font-family="'DejaVu Sans', 'Liberation Sans', sans-serif" font-size="20.6" textLength="26.3" lengthAdjust="spacingAndGlyphs">P3</text>
<line x1="263.2" y1="1505.3" x2="263.2" y2="1510.8" stroke="#222" stroke-width="1.3"/>
<text x="263.2" y="1531.9" text-anchor="middle" font-family="'DejaVu Sans', 'Liberation Sans', sans-serif" font-size="20.6" textLength="26.3" lengthAdjust="spacingAndGlyphs">P4</text>
<line x1="311.1" y1="1505.3" x2="311.1" y2="1510.8" stroke="#222" stroke-width="1.3"/>
<text x="311.1" y="1531.9" text-anchor="middle" font-family="'DejaVu Sans', 'Liberation Sans', sans-serif" font-size="20.6" textLength="26.3" lengthAdjust="spacingAndGlyphs">P5</text>
<line x1="359.1" y1="1505.3" x2="359.1" y2="1510.8" stroke="#222" stroke-width="1.3"/>
<text x="359.1" y="1531.9" text-anchor="middle" font-family="'DejaVu Sans', 'Liberation Sans', sans-serif" font-size="20.6" textLength="26.3" lengthAdjust="spacingAndGlyphs">P6</text>
<line x1="407.0" y1="1505.3" x2="407.0" y2="1510.8" stroke="#222" stroke-width="1.3"/>
<text x="407.0" y="1531.9" text-anchor="middle" font-family="'DejaVu Sans', 'Liberation Sans', sans-serif" font-size="20.6" textLength="26.3" lengthAdjust="spacingAndGlyphs">P7</text>
<line x1="455.0" y1="1505.3" x2="455.0" y2="1510.8" stroke="#222" stroke-width="1.3"/>
<text x="455.0" y="1531.9" text-anchor="middle" font-family="'DejaVu Sans', 'Liberation Sans', sans-serif" font-size="20.6" textLength="26.3" lengthAdjust="spacingAndGlyphs">P8</text>
<line x1="502.9" y1="1505.3" x2="502.9" y2="1510.8" stroke="#222" stroke-width="1.3"/>
<text x="502.9" y="1531.9" text-anchor="middle" font-family="'DejaVu Sans', 'Liberation Sans', sans-serif" font-size="20.6" textLength="26.3" lengthAdjust="spacingAndGlyphs">P9</text>
<line x1="550.9" y1="1505.3" x2="550.9" y2="1510.8" stroke="#222" stroke-width="1.3"/>
<text x="550.9" y="1531.9" text-anchor="middle" font-family="'DejaVu Sans', 'Liberation Sans', sans-serif" font-size="20.6" textLength="39.8" lengthAdjust="spacingAndGlyphs">P10</text>
<line x1="598.8" y1="1505.3" x2="598.8" y2="1510.8" stroke="#222" stroke-width="1.3"/>
<text x="598.8" y="1531.9" text-anchor="middle" font-family="'DejaVu Sans', 'Liberation Sans', sans-serif" font-size="20.6" textLength="39.8" lengthAdjust="spacingAndGlyphs">P11</text>
<line x1="646.8" y1="1505.3" x2="646.8" y2="1510.8" stroke="#222" stroke-width="1.3"/>
<text x="646.8" y="1531.9" text-anchor="middle" font-family="'DejaVu Sans', 'Liberation Sans', sans-serif" font-size="20.6" textLength="39.8" lengthAdjust="spacingAndGlyphs">P12</text>
<line x1="694.7" y1="1505.3" x2="694.7" y2="1510.8" stroke="#222" stroke-width="1.3"/>
<text x="694.7" y="1531.9" text-anchor="middle" font-family="'DejaVu Sans', 'Liberation Sans', sans-serif" font-size="20.6" textLength="39.8" lengthAdjust="spacingAndGlyphs">P13</text>
<line x1="742.6" y1="1505.3" x2="742.6" y2="1510.8" stroke="#222" stroke-width="1.3"/>
<text x="742.6" y="1531.9" text-anchor="middle" font-family="'DejaVu Sans', 'Liberation Sans', sans-serif" font-size="20.6" textLength="39.8" lengthAdjust="spacingAndGlyphs">P14</text>
<line x1="790.6" y1="1505.3" x2="790.6" y2="1510.8" stroke="#222" stroke-width="1.3"/>
<text x="790.6" y="1531.9" text-anchor="middle" font-family="'DejaVu Sans', 'Liberation Sans', sans-serif" font-size="20.6" textLength="39.8" lengthAdjust="spacingAndGlyphs">P15</text>
<line x1="838.5" y1="1505.3" x2="838.5" y2="1510.8" stroke="#222" stroke-width="1.3"/>
<text x="838.5" y="1531.9" text-anchor="middle" font-family="'DejaVu Sans', 'Liberation Sans', sans-serif" font-size="20.6" textLength="39.8" lengthAdjust="spacingAndGlyphs">P16</text>
<line x1="886.5" y1="1505.3" x2="886.5" y2="1510.8" stroke="#222" stroke-width="1.3"/>
<text x="886.5" y="1531.9" text-anchor="middle" font-family="'DejaVu Sans', 'Liberation Sans', sans-serif" font-size="20.6" textLength="39.8" lengthAdjust="spacingAndGlyphs">P17</text>
<line x1="934.5" y1="1505.3" x2="934.5" y2="1510.8" stroke="#222" stroke-width="1.3"/>
<text x="934.5" y="1531.9" text-anchor="middle" font-family="'DejaVu Sans', 'Liberation Sans', sans-serif" font-size="20.6" textLength="39.8" lengthAdjust="spacingAndGlyphs">P18</text>
<line x1="982.4" y1="1505.3" x2="982.4" y2="1510.8" stroke="#222" stroke-width="1.3"/>
<text x="982.4" y="1531.9" text-anchor="middle" font-family="'DejaVu Sans', 'Liberation Sans', sans-serif" font-size="20.6" textLength="39.8" lengthAdjust="spacingAndGlyphs">P19</text>
<text transform="translate(24,1336.4) rotate(-90)" text-anchor="middle" font-family="'Liberation Sans', Arial, sans-serif" font-size="29" textLength="238.0" lengthAdjust="spacingAndGlyphs">Pressure (mmHg)</text>
<text x="295.6" y="1152.3" font-family="'DejaVu Sans', 'Liberation Sans', sans-serif" font-weight="bold" font-size="30.5" textLength="51.6" lengthAdjust="spacingAndGlyphs">(c)</text>
<text x="352.8" y="1155.3" font-family="'DejaVu Sans', 'Liberation Sans', sans-serif" font-weight="bold" font-size="30.5">Mean Arterial Pressure</text>
<rect x="889.8" y="1172.5" width="128.6" height="50.1" rx="3" ry="3" fill="#fff" fill-opacity="0.8" stroke="#d6d6d6" stroke-width="1.2"/>
<path d="M910.6 1179.5L917.7 1186.6L910.6 1193.7L903.5 1186.6Z" fill="#ff0000"/>
<circle cx="910.6" cy="1209.5" r="5.3" fill="#228b22"/>
<text x="937.0" y="1190.8" font-family="'DejaVu Sans', 'Liberation Sans', sans-serif" font-size="15.2">Pre-TAVR</text>
<text x="937.0" y="1213.3" font-family="'DejaVu Sans', 'Liberation Sans', sans-serif" font-size="15.2">Post-TAVR</text>
<line x1="136.8" y1="1884.4" x2="136.8" y2="1752.0" stroke="#1a1a1a" stroke-width="1.5"/>
<line x1="183.8" y1="1895.6" x2="183.8" y2="1873.5" stroke="#1a1a1a" stroke-width="1.5"/>
<line x1="230.9" y1="1915.0" x2="230.9" y2="1858.0" stroke="#1a1a1a" stroke-width="1.5"/>
<line x1="277.9" y1="1814.8" x2="277.9" y2="1805.5" stroke="#1a1a1a" stroke-width="1.5"/>
<line x1="324.9" y1="1836.4" x2="324.9" y2="1669.3" stroke="#1a1a1a" stroke-width="1.5"/>
<line x1="372.0" y1="1871.3" x2="372.0" y2="1963.0" stroke="#1a1a1a" stroke-width="1.5"/>
<line x1="419.0" y1="1875.8" x2="419.0" y2="1848.2" stroke="#1a1a1a" stroke-width="1.5"/>
<line x1="466.0" y1="1835.3" x2="466.0" y2="1697.8" stroke="#1a1a1a" stroke-width="1.5"/>
<line x1="513.0" y1="1776.1" x2="513.0" y2="1803.4" stroke="#1a1a1a" stroke-width="1.5"/>
<line x1="560.1" y1="1867.8" x2="560.1" y2="1674.8" stroke="#1a1a1a" stroke-width="1.5"/>
<line x1="607.1" y1="1861.0" x2="607.1" y2="1900.8" stroke="#1a1a1a" stroke-width="1.5"/>
<line x1="654.1" y1="1978.2" x2="654.1" y2="1877.7" stroke="#1a1a1a" stroke-width="1.5"/>
<line x1="701.2" y1="1877.7" x2="701.2" y2="1955.5" stroke="#1a1a1a" stroke-width="1.5"/>
<line x1="748.2" y1="1870.9" x2="748.2" y2="1917.2" stroke="#1a1a1a" stroke-width="1.5"/>
<line x1="795.2" y1="1818.7" x2="795.2" y2="1858.5" stroke="#1a1a1a" stroke-width="1.5"/>
<line x1="842.2" y1="1952.1" x2="842.2" y2="1917.2" stroke="#1a1a1a" stroke-width="1.5"/>
<line x1="889.3" y1="1753.4" x2="889.3" y2="1918.3" stroke="#1a1a1a" stroke-width="1.5"/>
<line x1="936.3" y1="1891.8" x2="936.3" y2="1826.5" stroke="#1a1a1a" stroke-width="1.5"/>
<line x1="983.3" y1="1834.3" x2="983.3" y2="1803.6" stroke="#1a1a1a" stroke-width="1.5"/>
<path d="M136.8 1877.1L144.1 1884.4L136.8 1891.7L129.5 1884.4Z" fill="#ff0000"/>
<circle cx="136.8" cy="1752.0" r="5.4" fill="#228b22"/>
<path d="M183.8 1888.3L191.1 1895.6L183.8 1902.9L176.5 1895.6Z" fill="#ff0000"/>
<circle cx="183.8" cy="1873.5" r="5.4" fill="#228b22"/>
<path d="M230.9 1907.7L238.2 1915.0L230.9 1922.3L223.6 1915.0Z" fill="#ff0000"/>
<circle cx="230.9" cy="1858.0" r="5.4" fill="#228b22"/>
<path d="M277.9 1807.5L285.2 1814.8L277.9 1822.1L270.6 1814.8Z" fill="#ff0000"/>
<circle cx="277.9" cy="1805.5" r="5.4" fill="#228b22"/>
<path d="M324.9 1829.1L332.2 1836.4L324.9 1843.7L317.6 1836.4Z" fill="#ff0000"/>
<circle cx="324.9" cy="1669.3" r="5.4" fill="#228b22"/>
<path d="M372.0 1864.0L379.3 1871.3L372.0 1878.6L364.7 1871.3Z" fill="#ff0000"/>
<circle cx="372.0" cy="1963.0" r="5.4" fill="#228b22"/>
<path d="M419.0 1868.5L426.3 1875.8L419.0 1883.1L411.7 1875.8Z" fill="#ff0000"/>
<circle cx="419.0" cy="1848.2" r="5.4" fill="#228b22"/>
<path d="M466.0 1828.0L473.3 1835.3L466.0 1842.6L458.7 1835.3Z" fill="#ff0000"/>
<circle cx="466.0" cy="1697.8" r="5.4" fill="#228b22"/>
<path d="M513.0 1768.8L520.3 1776.1L513.0 1783.4L505.7 1776.1Z" fill="#ff0000"/>
<circle cx="513.0" cy="1803.4" r="5.4" fill="#228b22"/>
<path d="M560.1 1860.5L567.4 1867.8L560.1 1875.1L552.8 1867.8Z" fill="#ff0000"/>
<circle cx="560.1" cy="1674.8" r="5.4" fill="#228b22"/>
<path d="M607.1 1853.7L614.4 1861.0L607.1 1868.3L599.8 1861.0Z" fill="#ff0000"/>
<circle cx="607.1" cy="1900.8" r="5.4" fill="#228b22"/>
<path d="M654.1 1970.9L661.4 1978.2L654.1 1985.5L646.8 1978.2Z" fill="#ff0000"/>
<circle cx="654.1" cy="1877.7" r="5.4" fill="#228b22"/>
<path d="M701.2 1870.4L708.5 1877.7L701.2 1885.0L693.9 1877.7Z" fill="#ff0000"/>
<circle cx="701.2" cy="1955.5" r="5.4" fill="#228b22"/>
<path d="M748.2 1863.6L755.5 1870.9L748.2 1878.2L740.9 1870.9Z" fill="#ff0000"/>
<circle cx="748.2" cy="1917.2" r="5.4" fill="#228b22"/>
<path d="M795.2 1811.4L802.5 1818.7L795.2 1826.0L787.9 1818.7Z" fill="#ff0000"/>
<circle cx="795.2" cy="1858.5" r="5.4" fill="#228b22"/>
<path d="M842.2 1944.8L849.5 1952.1L842.2 1959.4L835.0 1952.1Z" fill="#ff0000"/>
<circle cx="842.2" cy="1917.2" r="5.4" fill="#228b22"/>
<path d="M889.3 1746.1L896.6 1753.4L889.3 1760.7L882.0 1753.4Z" fill="#ff0000"/>
<circle cx="889.3" cy="1918.3" r="5.4" fill="#228b22"/>
<path d="M936.3 1884.5L943.6 1891.8L936.3 1899.1L929.0 1891.8Z" fill="#ff0000"/>
<circle cx="936.3" cy="1826.5" r="5.4" fill="#228b22"/>
<path d="M983.3 1827.0L990.6 1834.3L983.3 1841.6L976.0 1834.3Z" fill="#ff0000"/>
<circle cx="983.3" cy="1803.6" r="5.4" fill="#228b22"/>
<rect x="95.4" y="1652.8" width="931.1" height="340.4" fill="none" stroke="#222" stroke-width="1.5"/>
<line x1="89.9" y1="1676.9" x2="95.4" y2="1676.9" stroke="#222" stroke-width="1.3"/>
<text x="88.6" y="1683.4" text-anchor="end" font-family="'DejaVu Sans', 'Liberation Sans', sans-serif" font-weight="bold" font-size="15.5" textLength="56.6" lengthAdjust="spacingAndGlyphs">10000</text>
<line x1="89.9" y1="1721.5" x2="95.4" y2="1721.5" stroke="#222" stroke-width="1.3"/>
<text x="88.6" y="1728.0" text-anchor="end" font-family="'DejaVu Sans', 'Liberation Sans', sans-serif" font-weight="bold" font-size="15.5" textLength="45.3" lengthAdjust="spacingAndGlyphs">9000</text>
<line x1="89.9" y1="1766.1" x2="95.4" y2="1766.1" stroke="#222" stroke-width="1.3"/>
<text x="88.6" y="1772.6" text-anchor="end" font-family="'DejaVu Sans', 'Liberation Sans', sans-serif" font-weight="bold" font-size="15.5" textLength="45.3" lengthAdjust="spacingAndGlyphs">8000</text>
<line x1="89.9" y1="1810.7" x2="95.4" y2="1810.7" stroke="#222" stroke-width="1.3"/>
<text x="88.6" y="1817.2" text-anchor="end" font-family="'DejaVu Sans', 'Liberation Sans', sans-serif" font-weight="bold" font-size="15.5" textLength="45.3" lengthAdjust="spacingAndGlyphs">7000</text>
<line x1="89.9" y1="1855.3" x2="95.4" y2="1855.3" stroke="#222" stroke-width="1.3"/>
<text x="88.6" y="1861.8" text-anchor="end" font-family="'DejaVu Sans', 'Liberation Sans', sans-serif" font-weight="bold" font-size="15.5" textLength="45.3" lengthAdjust="spacingAndGlyphs">6000</text>
<line x1="89.9" y1="1899.8" x2="95.4" y2="1899.8" stroke="#222" stroke-width="1.3"/>
<text x="88.6" y="1906.3" text-anchor="end" font-family="'DejaVu Sans', 'Liberation Sans', sans-serif" font-weight="bold" font-size="15.5" textLength="45.3" lengthAdjust="spacingAndGlyphs">5000</text>
<line x1="89.9" y1="1944.4" x2="95.4" y2="1944.4" stroke="#222" stroke-width="1.3"/>
<text x="88.6" y="1950.9" text-anchor="end" font-family="'DejaVu Sans', 'Liberation Sans', sans-serif" font-weight="bold" font-size="15.5" textLength="45.3" lengthAdjust="spacingAndGlyphs">4000</text>
<line x1="89.9" y1="1989.0" x2="95.4" y2="1989.0" stroke="#222" stroke-width="1.3"/>
<text x="88.6" y="1995.5" text-anchor="end" font-family="'DejaVu Sans', 'Liberation Sans', sans-serif" font-weight="bold" font-size="15.5" textLength="45.3" lengthAdjust="spacingAndGlyphs">3000</text>
<line x1="136.8" y1="1993.2" x2="136.8" y2="1998.7" stroke="#222" stroke-width="1.3"/>
<text x="136.8" y="2019.8" text-anchor="middle" font-family="'DejaVu Sans', 'Liberation Sans', sans-serif" font-size="20.6" textLength="26.3" lengthAdjust="spacingAndGlyphs">P1</text>
<line x1="183.8" y1="1993.2" x2="183.8" y2="1998.7" stroke="#222" stroke-width="1.3"/>
<text x="183.8" y="2019.8" text-anchor="middle" font-family="'DejaVu Sans', 'Liberation Sans', sans-serif" font-size="20.6" textLength="26.3" lengthAdjust="spacingAndGlyphs">P2</text>
<line x1="230.9" y1="1993.2" x2="230.9" y2="1998.7" stroke="#222" stroke-width="1.3"/>
<text x="230.9" y="2019.8" text-anchor="middle" font-family="'DejaVu Sans', 'Liberation Sans', sans-serif" font-size="20.6" textLength="26.3" lengthAdjust="spacingAndGlyphs">P3</text>
<line x1="277.9" y1="1993.2" x2="277.9" y2="1998.7" stroke="#222" stroke-width="1.3"/>
<text x="277.9" y="2019.8" text-anchor="middle" font-family="'DejaVu Sans', 'Liberation Sans', sans-serif" font-size="20.6" textLength="26.3" lengthAdjust="spacingAndGlyphs">P4</text>
<line x1="324.9" y1="1993.2" x2="324.9" y2="1998.7" stroke="#222" stroke-width="1.3"/>
<text x="324.9" y="2019.8" text-anchor="middle" font-family="'DejaVu Sans', 'Liberation Sans', sans-serif" font-size="20.6" textLength="26.3" lengthAdjust="spacingAndGlyphs">P5</text>
<line x1="372.0" y1="1993.2" x2="372.0" y2="1998.7" stroke="#222" stroke-width="1.3"/>
<text x="372.0" y="2019.8" text-anchor="middle" font-family="'DejaVu Sans', 'Liberation Sans', sans-serif" font-size="20.6" textLength="26.3" lengthAdjust="spacingAndGlyphs">P6</text>
<line x1="419.0" y1="1993.2" x2="419.0" y2="1998.7" stroke="#222" stroke-width="1.3"/>
<text x="419.0" y="2019.8" text-anchor="middle" font-family="'DejaVu Sans', 'Liberation Sans', sans-serif" font-size="20.6" textLength="26.3" lengthAdjust="spacingAndGlyphs">P7</text>
<line x1="466.0" y1="1993.2" x2="466.0" y2="1998.7" stroke="#222" stroke-width="1.3"/>
<text x="466.0" y="2019.8" text-anchor="middle" font-family="'DejaVu Sans', 'Liberation Sans', sans-serif" font-size="20.6" textLength="26.3" lengthAdjust="spacingAndGlyphs">P8</text>
<line x1="513.0" y1="1993.2" x2="513.0" y2="1998.7" stroke="#222" stroke-width="1.3"/>
<text x="513.0" y="2019.8" text-anchor="middle" font-family="'DejaVu Sans', 'Liberation Sans', sans-serif" font-size="20.6" textLength="26.3" lengthAdjust="spacingAndGlyphs">P9</text>
<line x1="560.1" y1="1993.2" x2="560.1" y2="1998.7" stroke="#222" stroke-width="1.3"/>
<text x="560.1" y="2019.8" text-anchor="middle" font-family="'DejaVu Sans', 'Liberation Sans', sans-serif" font-size="20.6" textLength="39.8" lengthAdjust="spacingAndGlyphs">P10</text>
<line x1="607.1" y1="1993.2" x2="607.1" y2="1998.7" stroke="#222" stroke-width="1.3"/>
<text x="607.1" y="2019.8" text-anchor="middle" font-family="'DejaVu Sans', 'Liberation Sans', sans-serif" font-size="20.6" textLength="39.8" lengthAdjust="spacingAndGlyphs">P11</text>
<line x1="654.1" y1="1993.2" x2="654.1" y2="1998.7" stroke="#222" stroke-width="1.3"/>
<text x="654.1" y="2019.8" text-anchor="middle" font-family="'DejaVu Sans', 'Liberation Sans', sans-serif" font-size="20.6" textLength="39.8" lengthAdjust="spacingAndGlyphs">P12</text>
<line x1="701.2" y1="1993.2" x2="701.2" y2="1998.7" stroke="#222" stroke-width="1.3"/>
<text x="701.2" y="2019.8" text-anchor="middle" font-family="'DejaVu Sans', 'Liberation Sans', sans-serif" font-size="20.6" textLength="39.8" lengthAdjust="spacingAndGlyphs">P13</text>
<line x1="748.2" y1="1993.2" x2="748.2" y2="1998.7" stroke="#222" stroke-width="1.3"/>
<text x="748.2" y="2019.8" text-anchor="middle" font-family="'DejaVu Sans', 'Liberation Sans', sans-serif" font-size="20.6" textLength="39.8" lengthAdjust="spacingAndGlyphs">P14</text>
<line x1="795.2" y1="1993.2" x2="795.2" y2="1998.7" stroke="#222" stroke-width="1.3"/>
<text x="795.2" y="2019.8" text-anchor="middle" font-family="'DejaVu Sans', 'Liberation Sans', sans-serif" font-size="20.6" textLength="39.8" lengthAdjust="spacingAndGlyphs">P15</text>
<line x1="842.2" y1="1993.2" x2="842.2" y2="1998.7" stroke="#222" stroke-width="1.3"/>
<text x="842.2" y="2019.8" text-anchor="middle" font-family="'DejaVu Sans', 'Liberation Sans', sans-serif" font-size="20.6" textLength="39.8" lengthAdjust="spacingAndGlyphs">P16</text>
<line x1="889.3" y1="1993.2" x2="889.3" y2="1998.7" stroke="#222" stroke-width="1.3"/>
<text x="889.3" y="2019.8" text-anchor="middle" font-family="'DejaVu Sans', 'Liberation Sans', sans-serif" font-size="20.6" textLength="39.8" lengthAdjust="spacingAndGlyphs">P17</text>
<line x1="936.3" y1="1993.2" x2="936.3" y2="1998.7" stroke="#222" stroke-width="1.3"/>
<text x="936.3" y="2019.8" text-anchor="middle" font-family="'DejaVu Sans', 'Liberation Sans', sans-serif" font-size="20.6" textLength="39.8" lengthAdjust="spacingAndGlyphs">P18</text>
<line x1="983.3" y1="1993.2" x2="983.3" y2="1998.7" stroke="#222" stroke-width="1.3"/>
<text x="983.3" y="2019.8" text-anchor="middle" font-family="'DejaVu Sans', 'Liberation Sans', sans-serif" font-size="20.6" textLength="39.8" lengthAdjust="spacingAndGlyphs">P19</text>
<text transform="translate(22.8,1824.5) rotate(-90)" text-anchor="middle" font-family="'Liberation Sans', Arial, sans-serif" font-size="29" textLength="194.5" lengthAdjust="spacingAndGlyphs">Flow (mL/min)</text>
<text x="371.4" y="1640.0" font-family="'DejaVu Sans', 'Liberation Sans', sans-serif" font-weight="bold" font-size="30.5" textLength="54.4" lengthAdjust="spacingAndGlyphs">(d)</text>
<text x="430.2" y="1643.8" font-family="'DejaVu Sans', 'Liberation Sans', sans-serif" font-weight="bold" font-size="30.5">Cardiac Output</text>
<rect x="889.7" y="1660.8" width="128.7" height="49.9" rx="3" ry="3" fill="#fff" fill-opacity="0.8" stroke="#d6d6d6" stroke-width="1.2"/>
<path d="M910.5 1667.8L917.6 1674.9L910.5 1682.0L903.4 1674.9Z" fill="#ff0000"/>
<circle cx="910.5" cy="1697.8" r="5.3" fill="#228b22"/>
<text x="936.9" y="1679.1" font-family="'DejaVu Sans', 'Liberation Sans', sans-serif" font-size="15.2">Pre-TAVR</text>
<text x="936.9" y="1701.6" font-family="'DejaVu Sans', 'Liberation Sans', sans-serif" font-size="15.2">Post-TAVR</text>
<rect x="1046.5" y="163.2" width="489.6" height="382.5" fill="#fff" stroke="#d9d9d9" stroke-width="1.5"/>
<text x="1291.3" y="207.8" text-anchor="middle" font-family="Carlito, Calibri, 'Liberation Sans', sans-serif" font-weight="bold" font-size="30.7" textLength="335.5" lengthAdjust="spacingAndGlyphs">Left Ventricle Workload (J)</text>
<text x="1102.9" y="251.2" text-anchor="end" font-family="Carlito, Calibri, 'Liberation Sans', sans-serif" font-size="25.4" textLength="45.0" lengthAdjust="spacingAndGlyphs">1.70</text>
<text x="1102.9" y="291.0" text-anchor="end" font-family="Carlito, Calibri, 'Liberation Sans', sans-serif" font-size="25.4" textLength="45.0" lengthAdjust="spacingAndGlyphs">1.65</text>
<text x="1102.9" y="330.8" text-anchor="end" font-family="Carlito, Calibri, 'Liberation Sans', sans-serif" font-size="25.4" textLength="45.0" lengthAdjust="spacingAndGlyphs">1.60</text>
<text x="1102.9" y="370.6" text-anchor="end" font-family="Carlito, Calibri, 'Liberation Sans', sans-serif" font-size="25.4" textLength="45.0" lengthAdjust="spacingAndGlyphs">1.55</text>
<text x="1102.9" y="410.4" text-anchor="end" font-family="Carlito, Calibri, 'Liberation Sans', sans-serif" font-size="25.4" textLength="45.0" lengthAdjust="spacingAndGlyphs">1.50</text>
<text x="1102.9" y="450.2" text-anchor="end" font-family="Carlito, Calibri, 'Liberation Sans', sans-serif" font-size="25.4" textLength="45.0" lengthAdjust="spacingAndGlyphs">1.45</text>
<text x="1102.9" y="490.0" text-anchor="end" font-family="Carlito, Calibri, 'Liberation Sans', sans-serif" font-size="25.4" textLength="45.0" lengthAdjust="spacingAndGlyphs">1.40</text>
<rect x="1192.6" y="266.2" width="61.2" height="216.8" fill="#ff0000" stroke="#000" stroke-width="1.4"/>
<text x="1223.2" y="250.7" text-anchor="middle" font-family="Carlito, Calibri, 'Liberation Sans', sans-serif" font-weight="bold" font-size="23.2" textLength="41.5" lengthAdjust="spacingAndGlyphs">1.67</text>
<rect x="1387.4" y="326.7" width="61.1" height="156.3" fill="#70ad47" stroke="#000" stroke-width="1.4"/>
<text x="1418.0" y="311.2" text-anchor="middle" font-family="Carlito, Calibri, 'Liberation Sans', sans-serif" font-weight="bold" font-size="23.2" textLength="41.5" lengthAdjust="spacingAndGlyphs">1.60</text>
<line x1="1126.1" y1="483.0" x2="1514.9" y2="483.0" stroke="#262626" stroke-width="1.3"/>
<text x="1223.4" y="525.9" text-anchor="middle" font-family="Carlito, Calibri, 'Liberation Sans', sans-serif" font-weight="bold" font-size="28.5" textLength="106.6" lengthAdjust="spacingAndGlyphs">Pre-TAVR</text>
<text x="1418.1" y="525.9" text-anchor="middle" font-family="Carlito, Calibri, 'Liberation Sans', sans-serif" font-weight="bold" font-size="28.5" textLength="117.5" lengthAdjust="spacingAndGlyphs">Post-TAVR</text>
<rect x="1046.5" y="656.5" width="489.6" height="383.8" fill="#fff" stroke="#d9d9d9" stroke-width="1.5"/>
<text x="1291.3" y="701.8" text-anchor="middle" font-family="Carlito, Calibri, 'Liberation Sans', sans-serif" font-weight="bold" font-size="30.7" textLength="346.9" lengthAdjust="spacingAndGlyphs">Max Left Ventricle Pressure</text>
<text x="1291.3" y="737.4" text-anchor="middle" font-family="Carlito, Calibri, 'Liberation Sans', sans-serif" font-weight="bold" font-size="30.7" textLength="103.0" lengthAdjust="spacingAndGlyphs">(mmHg)</text>
<text x="1128.2" y="783.7" text-anchor="end" font-family="Carlito, Calibri, 'Liberation Sans', sans-serif" font-size="25.4" textLength="70.8" lengthAdjust="spacingAndGlyphs">180.00</text>
<text x="1128.2" y="850.5" text-anchor="end" font-family="Carlito, Calibri, 'Liberation Sans', sans-serif" font-size="25.4" textLength="70.8" lengthAdjust="spacingAndGlyphs">160.00</text>
<text x="1128.2" y="917.4" text-anchor="end" font-family="Carlito, Calibri, 'Liberation Sans', sans-serif" font-size="25.4" textLength="70.8" lengthAdjust="spacingAndGlyphs">140.00</text>
<text x="1128.2" y="984.2" text-anchor="end" font-family="Carlito, Calibri, 'Liberation Sans', sans-serif" font-size="25.4" textLength="70.8" lengthAdjust="spacingAndGlyphs">120.00</text>
<rect x="1213.6" y="790.3" width="56.9" height="186.6" fill="#ff0000" stroke="#384656" stroke-width="1.4"/>
<text x="1242.0" y="774.8" text-anchor="middle" font-family="Carlito, Calibri, 'Liberation Sans', sans-serif" font-weight="bold" font-size="23.2" textLength="65.0" lengthAdjust="spacingAndGlyphs">175.73</text>
<rect x="1395.3" y="866.9" width="57.5" height="110.0" fill="#70ad47" stroke="#384656" stroke-width="1.4"/>
<text x="1424.0" y="850.7" text-anchor="middle" font-family="Carlito, Calibri, 'Liberation Sans', sans-serif" font-weight="bold" font-size="23.2" textLength="65.0" lengthAdjust="spacingAndGlyphs">152.84</text>
<line x1="1151.5" y1="976.9" x2="1514.9" y2="976.9" stroke="#262626" stroke-width="1.3"/>
<text x="1242.5" y="1019.8" text-anchor="middle" font-family="Carlito, Calibri, 'Liberation Sans', sans-serif" font-weight="bold" font-size="28.5" textLength="106.6" lengthAdjust="spacingAndGlyphs">Pre-TAVR</text>
<text x="1424.0" y="1019.8" text-anchor="middle" font-family="Carlito, Calibri, 'Liberation Sans', sans-serif" font-weight="bold" font-size="28.5" textLength="117.5" lengthAdjust="spacingAndGlyphs">Post-TAVR</text>
<rect x="1046.5" y="1150.5" width="489.6" height="383.5" fill="#fff" stroke="#d9d9d9" stroke-width="1.5"/>
<text x="1291.0" y="1195.4" text-anchor="middle" font-family="Carlito, Calibri, 'Liberation Sans', sans-serif" font-weight="bold" font-size="30.7" textLength="293.5" lengthAdjust="spacingAndGlyphs">Mean Arterial Pressure</text>
<text x="1291.0" y="1232.4" text-anchor="middle" font-family="Carlito, Calibri, 'Liberation Sans', sans-serif" font-weight="bold" font-size="30.7" textLength="103.0" lengthAdjust="spacingAndGlyphs">(mmHg)</text>
<text x="1128.2" y="1277.0" text-anchor="end" font-family="Carlito, Calibri, 'Liberation Sans', sans-serif" font-size="25.4" textLength="70.8" lengthAdjust="spacingAndGlyphs">105.00</text>
<text x="1128.2" y="1317.2" text-anchor="end" font-family="Carlito, Calibri, 'Liberation Sans', sans-serif" font-size="25.4" textLength="70.8" lengthAdjust="spacingAndGlyphs">100.00</text>
<text x="1128.2" y="1357.3" text-anchor="end" font-family="Carlito, Calibri, 'Liberation Sans', sans-serif" font-size="25.4" textLength="57.9" lengthAdjust="spacingAndGlyphs">95.00</text>
<text x="1128.2" y="1397.5" text-anchor="end" font-family="Carlito, Calibri, 'Liberation Sans', sans-serif" font-size="25.4" textLength="57.9" lengthAdjust="spacingAndGlyphs">90.00</text>
<text x="1128.2" y="1437.6" text-anchor="end" font-family="Carlito, Calibri, 'Liberation Sans', sans-serif" font-size="25.4" textLength="57.9" lengthAdjust="spacingAndGlyphs">85.00</text>
<text x="1128.2" y="1477.8" text-anchor="end" font-family="Carlito, Calibri, 'Liberation Sans', sans-serif" font-size="25.4" textLength="57.9" lengthAdjust="spacingAndGlyphs">80.00</text>
<rect x="1213.6" y="1336.1" width="56.9" height="134.8" fill="#ff0000" stroke="#000" stroke-width="1.4"/>
<text x="1242.0" y="1320.6" text-anchor="middle" font-family="Carlito, Calibri, 'Liberation Sans', sans-serif" font-weight="bold" font-size="23.2" textLength="53.2" lengthAdjust="spacingAndGlyphs">96.74</text>
<rect x="1395.3" y="1282.3" width="57.5" height="188.6" fill="#70ad47" stroke="#384656" stroke-width="1.4"/>
<text x="1424.0" y="1266.5" text-anchor="middle" font-family="Carlito, Calibri, 'Liberation Sans', sans-serif" font-weight="bold" font-size="23.2" textLength="65.0" lengthAdjust="spacingAndGlyphs">103.41</text>
<line x1="1151.5" y1="1470.9" x2="1514.9" y2="1470.9" stroke="#262626" stroke-width="1.3"/>
<text x="1242.5" y="1513.2" text-anchor="middle" font-family="Carlito, Calibri, 'Liberation Sans', sans-serif" font-weight="bold" font-size="28.5" textLength="106.6" lengthAdjust="spacingAndGlyphs">Pre-TAVR</text>
<text x="1424.0" y="1513.2" text-anchor="middle" font-family="Carlito, Calibri, 'Liberation Sans', sans-serif" font-weight="bold" font-size="28.5" textLength="117.5" lengthAdjust="spacingAndGlyphs">Post-TAVR</text>
<rect x="1046.5" y="1643.8" width="489.6" height="383.5" fill="#fff" stroke="#d9d9d9" stroke-width="1.5"/>
<text x="1291.9" y="1687.8" text-anchor="middle" font-family="Carlito, Calibri, 'Liberation Sans', sans-serif" font-weight="bold" font-size="30.7" textLength="318.6" lengthAdjust="spacingAndGlyphs">Cardiac Output (mL/min)</text>
<text x="1140.8" y="1731.7" text-anchor="end" font-family="Carlito, Calibri, 'Liberation Sans', sans-serif" font-size="25.4" textLength="83.7" lengthAdjust="spacingAndGlyphs">6600.00</text>
<text x="1140.8" y="1771.5" text-anchor="end" font-family="Carlito, Calibri, 'Liberation Sans', sans-serif" font-size="25.4" textLength="83.7" lengthAdjust="spacingAndGlyphs">6400.00</text>
<text x="1140.8" y="1811.2" text-anchor="end" font-family="Carlito, Calibri, 'Liberation Sans', sans-serif" font-size="25.4" textLength="83.7" lengthAdjust="spacingAndGlyphs">6200.00</text>
<text x="1140.8" y="1851.0" text-anchor="end" font-family="Carlito, Calibri, 'Liberation Sans', sans-serif" font-size="25.4" textLength="83.7" lengthAdjust="spacingAndGlyphs">6000.00</text>
<text x="1140.8" y="1890.7" text-anchor="end" font-family="Carlito, Calibri, 'Liberation Sans', sans-serif" font-size="25.4" textLength="83.7" lengthAdjust="spacingAndGlyphs">5800.00</text>
<text x="1140.8" y="1930.5" text-anchor="end" font-family="Carlito, Calibri, 'Liberation Sans', sans-serif" font-size="25.4" textLength="83.7" lengthAdjust="spacingAndGlyphs">5600.00</text>
<text x="1140.8" y="1970.2" text-anchor="end" font-family="Carlito, Calibri, 'Liberation Sans', sans-serif" font-size="25.4" textLength="83.7" lengthAdjust="spacingAndGlyphs">5400.00</text>
<rect x="1224.2" y="1881.0" width="55.2" height="82.6" fill="#ff0000" stroke="#000" stroke-width="1.4"/>
<text x="1251.8" y="1865.5" text-anchor="middle" font-family="Carlito, Calibri, 'Liberation Sans', sans-serif" font-weight="bold" font-size="23.2" textLength="76.7" lengthAdjust="spacingAndGlyphs">5815.37</text>
<rect x="1399.9" y="1765.7" width="55.5" height="197.9" fill="#70ad47" stroke="#000" stroke-width="1.4"/>
<text x="1427.7" y="1750.5" text-anchor="middle" font-family="Carlito, Calibri, 'Liberation Sans', sans-serif" font-weight="bold" font-size="23.2" textLength="76.7" lengthAdjust="spacingAndGlyphs">6393.11</text>
<line x1="1163.8" y1="1963.6" x2="1514.9" y2="1963.6" stroke="#262626" stroke-width="1.3"/>
<text x="1251.8" y="2006.5" text-anchor="middle" font-family="Carlito, Calibri, 'Liberation Sans', sans-serif" font-weight="bold" font-size="28.5" textLength="106.6" lengthAdjust="spacingAndGlyphs">Pre-TAVR</text>
<text x="1427.7" y="2006.5" text-anchor="middle" font-family="Carlito, Calibri, 'Liberation Sans', sans-serif" font-weight="bold" font-size="28.5" textLength="117.5" lengthAdjust="spacingAndGlyphs">Post-TAVR</text>
</svg></body></html>
